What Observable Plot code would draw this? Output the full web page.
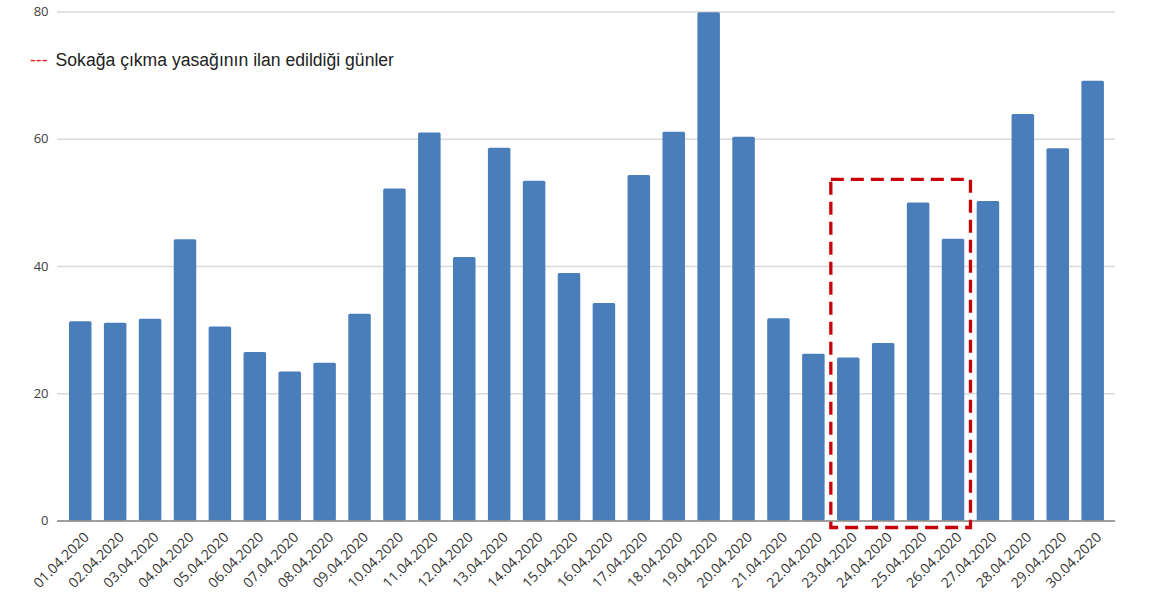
<!DOCTYPE html>
<html lang="tr">
<head>
<meta charset="utf-8">
<script src="https://cdn.jsdelivr.net/npm/d3@7"></script>
<script src="https://cdn.jsdelivr.net/npm/@observablehq/plot@0.6"></script>
<style>
  html, body { margin: 0; padding: 0; background: #fff; }
  #wrap { position: relative; width: 1150px; height: 596px; }
  #legend {
    position: absolute; left: 30px; top: 52px;
    font-family: "Liberation Sans", Arial, sans-serif; font-size: 17.6px; line-height: 1;
    color: #222; white-space: nowrap;
  }
  #legend .dash { color: #e8221c; margin-right: 8px; }
</style>
</head>
<body>
<div id="wrap">
  <div id="legend"><span class="dash">---</span>Sokağa çıkma yasağının ilan edildiği günler</div>
</div>
<script>
// Günlük değerler, Nisan 2020
const dates = [
  "01.04.2020","02.04.2020","03.04.2020","04.04.2020","05.04.2020",
  "06.04.2020","07.04.2020","08.04.2020","09.04.2020","10.04.2020",
  "11.04.2020","12.04.2020","13.04.2020","14.04.2020","15.04.2020",
  "16.04.2020","17.04.2020","18.04.2020","19.04.2020","20.04.2020",
  "21.04.2020","22.04.2020","23.04.2020","24.04.2020","25.04.2020",
  "26.04.2020","27.04.2020","28.04.2020","29.04.2020","30.04.2020"
];
const values = [
  31.3, 31.1, 31.7, 44.2, 30.5, 26.5, 23.4, 24.8, 32.5, 52.2,
  61.0, 41.4, 58.6, 53.4, 38.9, 34.2, 54.3, 61.1, 79.9, 60.3,
  31.8, 26.2, 25.6, 27.9, 50.0, 44.3, 50.2, 63.9, 58.5, 69.1
];
const yTicks = [0, 20, 40, 60, 80];

// Sokağa çıkma yasağı günleri (kesikli çerçeve)
const curfewDays = ["23.04.2020", "24.04.2020", "25.04.2020", "26.04.2020"];
const curfewBoxTop = 53.6;
const curfewBoxBottom = -1.1;

const table = dates.map((d, i) => ({day: i + 1, date: d, value: values[i]}));
const firstDay = dates.indexOf(curfewDays[0]) + 1;
const lastDay = dates.indexOf(curfewDays[curfewDays.length - 1]) + 1;
const curfewBox = [{x1: firstDay - 0.5, x2: lastDay + 0.5, y1: curfewBoxBottom, y2: curfewBoxTop}];

const chart = Plot.plot({
  width: 1150,
  height: 596,
  marginTop: 11.5,
  marginBottom: 75.5,
  marginLeft: 57,
  marginRight: 35,
  style: {background: "transparent", overflow: "visible", fontFamily: "Open Sans"},
  x: {type: "linear", domain: [0.334, 30.64]},
  y: {domain: [0, 80]},
  marks: [
    Plot.ruleY(yTicks.filter(t => t > 0), {stroke: "#d9d9d9", strokeWidth: 1.5}),
    Plot.rectY(table, {
      x1: d => d.day - 0.5, x2: d => d.day + 0.5, y: "value",
      insetLeft: 6.2, insetRight: 6.2, fill: "#4a7ebb", rx: 1.5
    }),
    Plot.ruleY([0], {stroke: "#7f7f7f", strokeWidth: 1.5}),
    Plot.rect(curfewBox, {
      x1: "x1", x2: "x2", y1: "y1", y2: "y2",
      fill: "none", stroke: "#c8000a", strokeWidth: 3.3, strokeDasharray: "13,7"
    }),
    Plot.axisY({
      ticks: yTicks, tickSize: 0, tickPadding: 9, label: null,
      fontSize: 13, fill: "#404040"
    }),
    Plot.axisX({
      ticks: d3.range(1, 31), tickFormat: d => dates[d - 1],
      tickRotate: -45, tickSize: 0, tickPadding: 14, dx: 6, label: null,
      fontSize: 14, fill: "#333"
    })
  ]
});
document.getElementById("wrap").prepend(chart);
</script>
</body>
</html>
